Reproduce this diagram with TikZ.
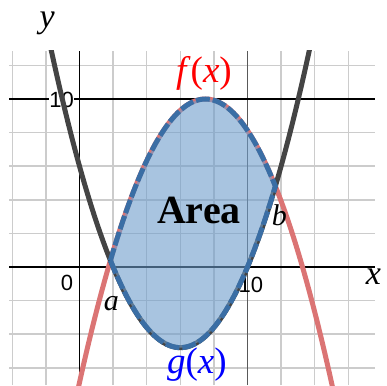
\documentclass[tikz,border=0pt]{standalone}
\usepackage{fontspec}
\newfontfamily\numfont{Liberation Sans}
\newfontfamily\labfont{Liberation Serif}
\usetikzlibrary{positioning}
\definecolor{gridGray}{HTML}{CCCCCC}
\definecolor{curveRed}{HTML}{DB7474}
\definecolor{curveDark}{HTML}{444444}
\definecolor{areaBlue}{HTML}{6E9DCB}
\definecolor{edgeBlue}{HTML}{3A6EA5}
\newcommand{\vr}[1]{\textit{#1\/}}

\begin{document}
\begin{tikzpicture}[x=16.8pt,y=16.8pt,
    gridline/.style={draw=gridGray,line width=1.5pt},
    axis/.style={draw=black,line width=1.8pt},
    curve/.style={line width=5pt,smooth,samples=90},
    num/.style={font=\numfont\fontsize{22}{24}\selectfont,inner sep=0.5pt},
    lbl/.style={font=\labfont\fontsize{34}{38}\selectfont,inner sep=0pt}]
  \useasboundingbox (-4.732,-7.024) rectangle (18.304,15.893);
  % grid
  \foreach \gx in {-4,-2,...,16}
    \draw[gridline] (\gx,-7.024) -- (\gx,12.86);
  \foreach \gy in {-6,-4,...,12}
    \draw[gridline] (-4.18,\gy) -- (17.59,\gy);
  \draw[line width=1.6pt,black!65] (10,-7.024) -- (10,12.86);
  \draw[line width=1.3pt] (-4.18,10) -- (17.59,10);
  % axes
  \draw[axis] (-4.18,0) -- (17.59,0);
  \draw[axis] (0,-7.024) -- (0,12.86);
  \node[num] (zero) at (-0.74,-0.95) {0};
  \node[num] (tenx) at (10.2,-1.07) {10};
  \node[num,fill=white] (teny) at (-1.07,9.97) {10};
  % curves
  \begin{scope}
    \clip (-4.18,-7.024) rectangle (17.59,12.86);
    \draw[curve,curveRed] plot[domain=-0.3:15.3] (\x,{10-0.3*(\x-7.5)*(\x-7.5)});
    \draw[curve,curveDark] plot[domain=-2:14] (\x,{0.3*(\x-2)*(\x-10)});
  \end{scope}
  % area between
  \fill[areaBlue,opacity=0.6] plot[smooth,samples=60,domain=1.8405:11.6595] (\x,{0.3*(\x-2)*(\x-10)})
    -- plot[smooth,samples=60,domain=11.6595:1.8405] (\x,{10-0.3*(\x-7.5)*(\x-7.5)}) -- cycle;
  \draw[edgeBlue,line width=5pt,dash pattern=on 14pt off 3pt]
    plot[smooth,samples=60,domain=1.8405:11.6595] (\x,{0.3*(\x-2)*(\x-10)})
    -- plot[smooth,samples=60,domain=11.6595:1.8405] (\x,{10-0.3*(\x-7.5)*(\x-7.5)}) -- cycle;
  \coordinate (A) at (1.8405,0.39);
  \coordinate (B) at (11.6595,4.81);
  % labels
  \node[lbl] (ylab) at (-1.93,14.5) {\vr{y}};
  \node[lbl] (xlab) at (17.5,-0.6) {\vr{x}};
  \node[lbl,text=red,font=\labfont\fontsize{37}{40}\selectfont] (flab) at (7.41,11.5) {\vr{f}(\vr{x})};
  \node[lbl,text=blue,font=\labfont\fontsize{37}{40}\selectfont] (glab) at (6.99,-5.78) {\vr{g}(\vr{x})};
  \node[lbl,font=\labfont\bfseries\fontsize{40}{44}\selectfont] (area) at (7.11,3.39) {Area};
  \node[lbl,font=\labfont\fontsize{30}{34}\selectfont,below=2.15 of A,xshift=1pt] (alab) {\vr{a}};
  \node[lbl,font=\labfont\fontsize{30}{34}\selectfont,below=1.1 of B,xshift=4pt] (blab) {\vr{b}};
\end{tikzpicture}
\end{document}
